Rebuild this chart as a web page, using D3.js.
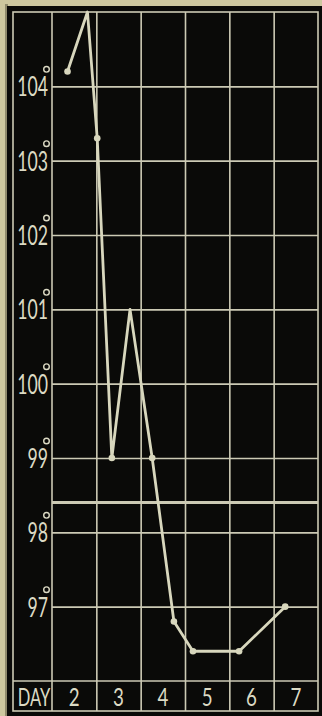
<!DOCTYPE html>
<html>
<head>
<meta charset="utf-8">
<script src="https://cdn.jsdelivr.net/npm/d3@7/dist/d3.min.js"></script>
<style>
  html, body { margin: 0; padding: 0; background: #cdc79f; }
  svg { display: block; }
</style>
</head>
<body>
<svg id="chart" width="322" height="716"></svg>
<script>
// ---- data ----
const days = [2, 3, 4, 5, 6, 7];
const dayLabels = ["2", "3", "4", "5", "6", "7"];
const tempTicks = [97, 98, 99, 100, 101, 102, 103, 104];
const tempLabels = ["97", "98", "99", "100", "101", "102", "103", "104"];
const normalTemp = 98.4;
const readingTimes = [2.35, 2.8, 3.02, 3.35, 3.76, 4.26, 4.75, 5.18, 6.22, 7.26];
const readingTemps = [104.2, 105.0, 103.3, 99.0, 101.0, 99.0, 96.8, 96.4, 96.4, 97.0];
const readingDot   = [true, false, true, true, false, true, true, true, true, true];

// ---- layout ----
const W = 322, H = 716;
const frame = { left: 13, top: 12, right: 318, bottom: 711 };
const plotLeft = 52, rowTop = 681;
const ink = "#dcdac4", gridCol = "#cccab4", bg = "#0a0a08";
const fontFam = "Lato, 'Open Sans', sans-serif";

const svg = d3.select("#chart");

svg.append("rect").attr("x", 0).attr("y", 0).attr("width", W).attr("height", H).attr("fill", "#cdc79f");
svg.append("rect").attr("x", 5).attr("y", 4).attr("width", 3).attr("height", H).attr("fill", "#8f8a6c");
svg.append("rect").attr("x", 7).attr("y", 6).attr("width", W - 7).attr("height", H - 6).attr("fill", bg);

const x = d3.scaleLinear().domain([2, 8]).range([plotLeft, frame.right]);
const y = d3.scaleLinear().domain([96, 105]).range([rowTop, frame.top]);

// horizontal grid (degree lines) via axis
const yGrid = d3.axisLeft(y).tickValues(tempTicks).tickSize(-(frame.right - plotLeft)).tickFormat("");
const gy = svg.append("g").attr("transform", `translate(${plotLeft},0)`).call(yGrid);
gy.select(".domain").remove();
gy.selectAll(".tick line").attr("stroke", gridCol).attr("stroke-width", 1.6);

// vertical day lines via axis
const xGrid = d3.axisTop(x).tickValues(days.slice(1)).tickSize(-(frame.bottom - frame.top)).tickFormat("");
const gx = svg.append("g").attr("transform", `translate(0,${frame.top})`).call(xGrid);
gx.select(".domain").remove();
gx.selectAll(".tick line").attr("stroke", gridCol).attr("stroke-width", 1.6);

// label column separator and day row line
svg.append("line").attr("x1", plotLeft).attr("x2", plotLeft).attr("y1", frame.top).attr("y2", frame.bottom)
  .attr("stroke", gridCol).attr("stroke-width", 1.6);
svg.append("line").attr("x1", frame.left).attr("x2", frame.right).attr("y1", y(96)).attr("y2", y(96))
  .attr("stroke", gridCol).attr("stroke-width", 1.6);

// normal temperature line
svg.append("line").attr("x1", plotLeft).attr("x2", frame.right).attr("y1", y(normalTemp)).attr("y2", y(normalTemp))
  .attr("stroke", gridCol).attr("stroke-width", 3);

// outer frame
svg.append("rect").attr("x", frame.left).attr("y", frame.top)
  .attr("width", frame.right - frame.left).attr("height", frame.bottom - frame.top)
  .attr("fill", "none").attr("stroke", gridCol).attr("stroke-width", 1.6);

// temperature labels
const labG = svg.append("g");
tempTicks.forEach((t, i) => {
  labG.append("text")
    .attr("transform", `translate(48,${y(t) + 10}) scale(0.68,1)`)
    .attr("text-anchor", "end")
    .attr("font-family", fontFam)
    .attr("font-size", 26)
    .attr("fill", ink)
    .text(tempLabels[i]);
  labG.append("circle")
    .attr("cx", 46.5).attr("cy", y(t) - 17).attr("r", 2.8)
    .attr("fill", "none").attr("stroke", ink).attr("stroke-width", 1.4);
});

// day row labels
svg.append("text")
  .attr("transform", `translate(34,706) scale(0.66,1)`)
  .attr("text-anchor", "middle")
  .attr("font-family", fontFam)
  .attr("font-size", 25)
  .attr("fill", ink)
  .text("DAY");
days.forEach((d, i) => {
  svg.append("text")
    .attr("transform", `translate(${x(d + 0.5)},706) scale(0.75,1)`)
    .attr("text-anchor", "middle")
    .attr("font-family", fontFam)
    .attr("font-size", 25)
    .attr("fill", ink)
    .text(dayLabels[i]);
});

// temperature line
const pts = readingTimes.map((t, i) => ({ t, v: readingTemps[i], dot: readingDot[i] }));
svg.append("path")
  .datum(pts)
  .attr("d", d3.line().x(d => x(d.t)).y(d => y(d.v)))
  .attr("fill", "none")
  .attr("stroke", "#d8d7bd")
  .attr("stroke-width", 2.8)
  .attr("stroke-linejoin", "round");
svg.selectAll("circle.pt")
  .data(pts.filter(d => d.dot))
  .join("circle")
  .attr("class", "pt")
  .attr("cx", d => x(d.t)).attr("cy", d => y(d.v)).attr("r", 3.3)
  .attr("fill", "#d8d7bd");
</script>
</body>
</html>
